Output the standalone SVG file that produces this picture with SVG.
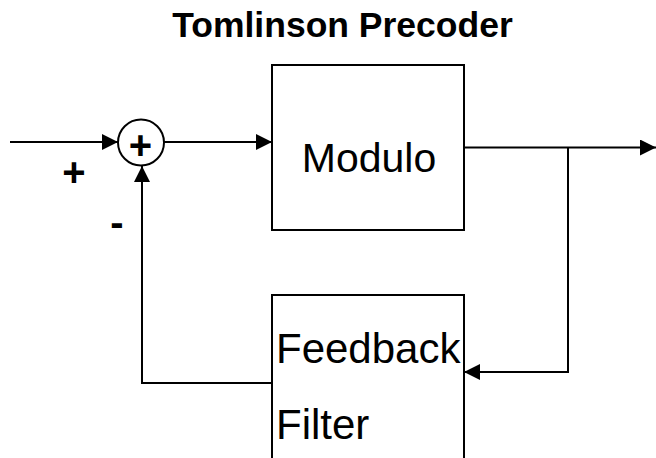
<svg xmlns="http://www.w3.org/2000/svg" width="656" height="458" viewBox="0 0 656 458">
<style>
  .box { fill: #ffffff; stroke: #000000; stroke-width: 2; }
  .wire { fill: none; stroke: #000000; stroke-width: 2; }
  .lbl { font-family: "Liberation Sans", Arial, sans-serif; fill: #000000; }
</style>
<defs>
  <marker id="arr" markerUnits="userSpaceOnUse" markerWidth="16" markerHeight="16" viewBox="0 0 16 16" refX="16" refY="8" orient="auto">
    <path d="M0,0 L16,8 L0,16 Z" fill="#000000"/>
  </marker>
</defs>
<rect width="656" height="458" fill="#ffffff"/>
<text class="lbl" x="342.5" y="37" font-size="35.5" font-weight="bold" text-anchor="middle">Tomlinson Precoder</text>
<g id="connectors">
  <line class="wire" x1="10" y1="142" x2="118" y2="142" marker-end="url(#arr)"/>
  <line class="wire" x1="164" y1="142" x2="272" y2="142" marker-end="url(#arr)"/>
  <line class="wire" x1="464" y1="147.5" x2="656" y2="147.5" marker-end="url(#arr)"/>
  <polyline class="wire" points="568,147.5 568,372 464,372" marker-end="url(#arr)"/>
  <polyline class="wire" points="272,383 142,383 142,166" marker-end="url(#arr)"/>
</g>
<g id="sum">
  <circle class="box" cx="141" cy="142.5" r="23"/>
  <text class="lbl" x="140.5" y="159" font-size="40" font-weight="bold" text-anchor="middle">+</text>
</g>
<g id="modulo">
  <rect class="box" x="272" y="65" width="192" height="165"/>
  <text class="lbl" x="369" y="172" font-size="41" text-anchor="middle">Modulo</text>
</g>
<g id="feedback">
  <rect class="box" x="272" y="295" width="192" height="180"/>
  <text class="lbl" x="276" y="363" font-size="42">Feedback</text>
  <text class="lbl" x="276" y="439" font-size="42">Filter</text>
</g>
<g id="signs">
  <text class="lbl" x="74" y="186" font-size="40" font-weight="bold" text-anchor="middle">+</text>
  <text class="lbl" x="117" y="236" font-size="40" font-weight="bold" text-anchor="middle">-</text>
</g>
</svg>
